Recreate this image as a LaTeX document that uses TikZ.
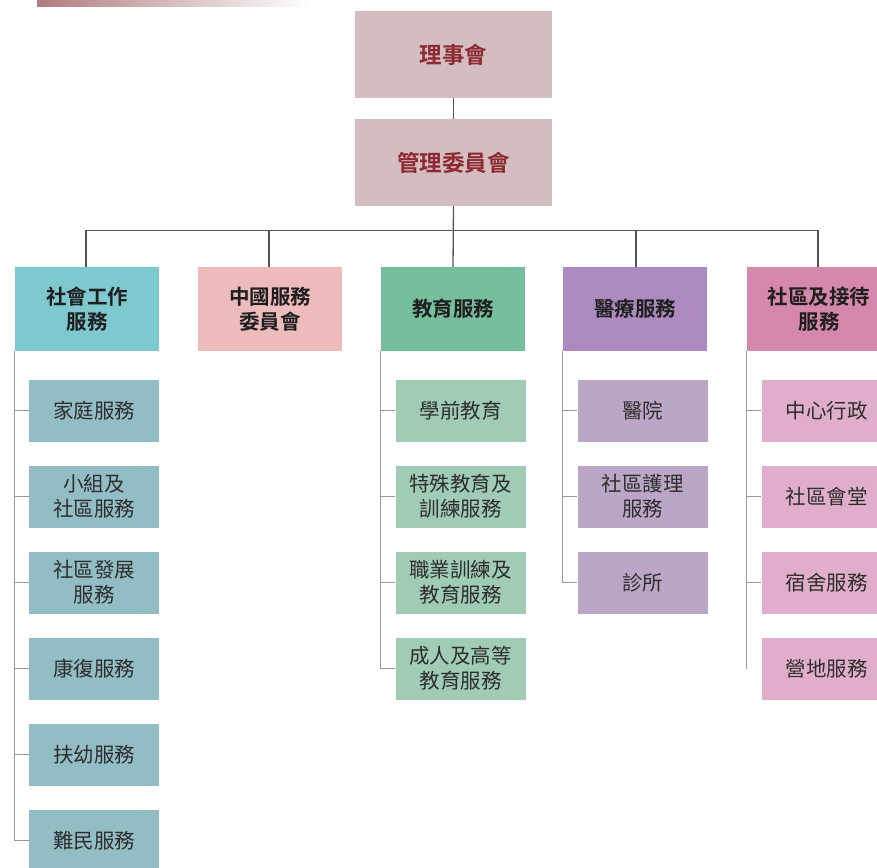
\documentclass[tikz,border=0pt]{standalone}
\usepackage{fontspec}
\newfontfamily\cjk{Noto Sans CJK TC}
\newfontfamily\cjkb{Noto Sans CJK TC Bold}
\definecolor{topfill}{HTML}{D4BDC1}
\definecolor{toptext}{HTML}{8E2B32}
\definecolor{swH}{HTML}{7EC8D0}
\definecolor{swS}{HTML}{92BDC5}
\definecolor{chH}{HTML}{EEBBBD}
\definecolor{edH}{HTML}{76BF9C}
\definecolor{edS}{HTML}{A0CBB5}
\definecolor{mdH}{HTML}{AD8ABF}
\definecolor{mdS}{HTML}{BBA6C6}
\definecolor{cmH}{HTML}{D587AC}
\definecolor{cmS}{HTML}{E0AECA}
\definecolor{mainline}{HTML}{555555}
\definecolor{subline}{HTML}{9A9A9A}
\definecolor{bar}{HTML}{B07C7E}
\tikzset{
  topbox/.style={fill=topfill,draw=none,minimum width=197pt,minimum height=87pt,inner sep=0pt,
    text=toptext,font=\cjkb\fontsize{22.5}{26}\selectfont},
  headbox/.style={fill=#1,draw=none,minimum width=144pt,minimum height=84pt,inner sep=0pt,
    align=center,text=black!88,font=\cjkb\fontsize{20.5}{25}\selectfont},
  subbox/.style={fill=#1,draw=none,minimum width=130pt,minimum height=62pt,inner sep=0pt,
    align=center,text=black!82,font=\cjk\fontsize{20.5}{25}\selectfont},
  mainconn/.style={draw=mainline,line width=1.3pt},
  subconn/.style={draw=subline,line width=1pt}
}
\begin{document}
\begin{tikzpicture}[x=1pt,y=-1pt]
\useasboundingbox (0,0) rectangle (877,867);
\clip (0,0) rectangle (877,867);
% gradient bar
\shade[left color=bar,right color=white] (37,0) rectangle (310,7);
% top boxes
\node[topbox] (board) at (453.5,54.5) {理事會};
\node[topbox] (mgmt) at (453.5,162.5) {管理委員會};
% level 2
\node[headbox=swH] (sw) at (87,309) {社會工作\\服務};
\node[headbox=chH] (chn) at (270,309) {中國服務\\委員會};
\node[headbox=edH] (edu) at (453,309) {教育服務};
\node[headbox=mdH] (med) at (635,309) {醫療服務};
\node[headbox=cmH] (com) at (819,309) {社區及接待\\服務};
% social work subs
\node[subbox=swS] (sw1) at (94,410.5) {家庭服務};
\node[subbox=swS] (sw2) at (94,496.5) {小組及\\社區服務};
\node[subbox=swS] (sw3) at (94,582.5) {社區發展\\服務};
\node[subbox=swS] (sw4) at (94,668.5) {康復服務};
\node[subbox=swS] (sw5) at (94,754.5) {扶幼服務};
\node[subbox=swS] (sw6) at (94,840.5) {難民服務};
% education subs
\node[subbox=edS] (ed1) at (460.5,410.5) {學前教育};
\node[subbox=edS] (ed2) at (460.5,496.5) {特殊教育及\\訓練服務};
\node[subbox=edS] (ed3) at (460.5,582.5) {職業訓練及\\教育服務};
\node[subbox=edS] (ed4) at (460.5,668.5) {成人及高等\\教育服務};
% medical subs
\node[subbox=mdS] (md1) at (642.5,410.5) {醫院};
\node[subbox=mdS] (md2) at (642.5,496.5) {社區護理\\服務};
\node[subbox=mdS] (md3) at (642.5,582.5) {診所};
% community subs
\node[subbox=cmS] (cm1) at (826.5,410.5) {中心行政};
\node[subbox=cmS] (cm2) at (826.5,496.5) {社區會堂};
\node[subbox=cmS] (cm3) at (826.5,582.5) {宿舍服務};
\node[subbox=cmS] (cm4) at (826.5,669) {營地服務};
% main connectors
\coordinate (bus) at ([yshift=-24pt]mgmt.south);
\draw[mainconn] (board.south) -- (mgmt.north);
\draw[mainconn] (mgmt.south) -- (edu.north);
\draw[mainconn] ([xshift=-1pt]sw.north) |- (bus) -| ([xshift=-1pt]com.north);
\draw[mainconn] ([xshift=-1pt]chn.north) -- ([xshift=-1pt]chn.north |- bus);
\draw[mainconn] ([xshift=1pt]med.north) -- ([xshift=1pt]med.north |- bus);
% sub connectors
\draw[subconn] (sw.south west) |- (sw6.west);
\foreach \n in {sw1,sw2,sw3,sw4,sw5} \draw[subconn] (sw.south west |- \n.west) -- (\n.west);
\draw[subconn] (edu.south west) |- (ed4.west);
\foreach \n in {ed1,ed2,ed3} \draw[subconn] (edu.south west |- \n.west) -- (\n.west);
\draw[subconn] (med.south west) |- (md3.west);
\foreach \n in {md1,md2} \draw[subconn] (med.south west |- \n.west) -- (\n.west);
\draw[subconn] (com.south west) -- (com.south west |- cm4.west);
\foreach \n in {cm1,cm2,cm3} \draw[subconn] (com.south west |- \n.west) -- (\n.west);
\end{tikzpicture}
\end{document}
